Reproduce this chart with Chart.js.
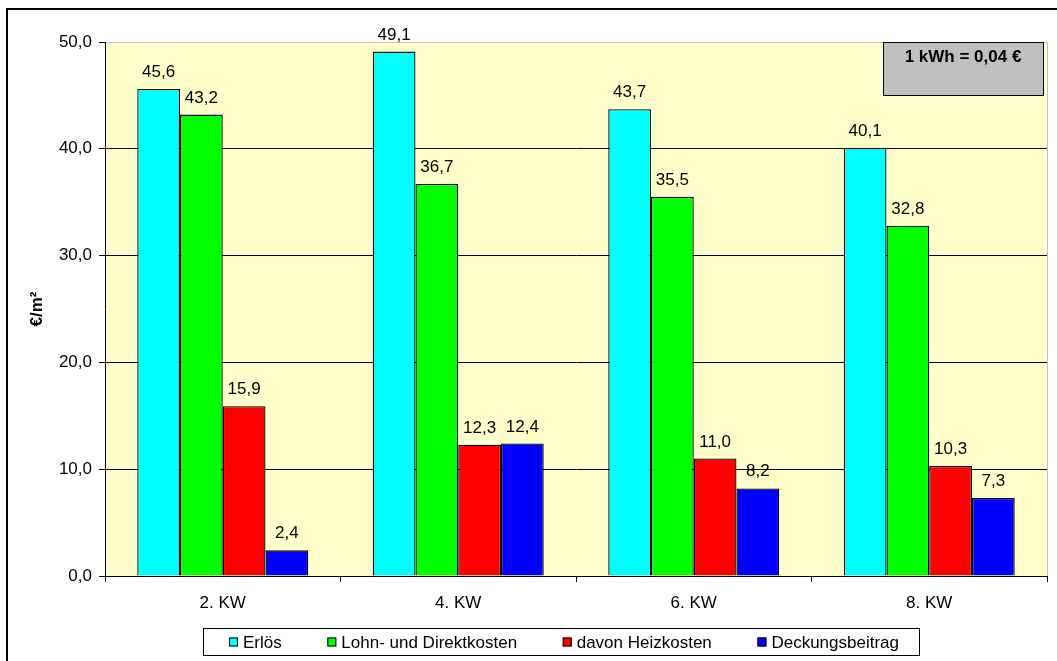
<!DOCTYPE html>
<html>
<head>
<meta charset="utf-8">
<script src="https://cdn.jsdelivr.net/npm/chart.js@4"></script>
<style>
  html, body { margin: 0; padding: 0; background: #fff; }
  #wrap { width: 1057px; height: 661px; }
</style>
</head>
<body>
<div id="wrap"><canvas id="c" width="1057" height="661"></canvas></div>
<script>
// Werte (€/m²) je Kalenderwoche
const weeks = ['2. KW', '4. KW', '6. KW', '8. KW'];
const erloes = [45.6, 49.1, 43.7, 40.1];
const lohnDirekt = [43.2, 36.7, 35.5, 32.8];
const heizkosten = [15.9, 12.3, 11.0, 10.3];
const deckung = [2.4, 12.4, 8.2, 7.3];
const seriesNames = ['Erlös', 'Lohn- und Direktkosten', 'davon Heizkosten', 'Deckungsbeitrag'];
const seriesColors = ['#00FFFF', '#00FF00', '#FF0000', '#0000FF'];
const yTicks = [0, 10, 20, 30, 40, 50];
const noteText = '1 kWh = 0,04 €';

const FONT = '"Liberation Sans", Arial, sans-serif';
const FS = 17;
const fmtDe = v => v.toFixed(1).replace('.', ',');

// plot background, outer frame, value labels, note box, legend
const decor = {
  id: 'decor',
  beforeDraw(chart) {
    const ctx = chart.ctx, a = chart.chartArea;
    ctx.save();
    ctx.fillStyle = '#FFFFCC';
    ctx.fillRect(a.left, a.top, a.right - a.left, a.bottom - a.top);
    ctx.strokeStyle = '#C0C0C0';
    ctx.lineWidth = 1;
    ctx.beginPath();
    ctx.moveTo(a.left, a.top + 0.5);
    ctx.lineTo(a.right + 0.5, a.top + 0.5);
    ctx.lineTo(a.right + 0.5, a.bottom);
    ctx.stroke();
    // outer frame
    ctx.strokeStyle = '#000';
    ctx.lineWidth = 2;
    ctx.strokeRect(7, 9, 1200, 800);
    ctx.restore();
  },
  afterDatasetsDraw(chart) {
    const ctx = chart.ctx;
    ctx.save();
    ctx.font = FS + 'px ' + FONT;
    ctx.fillStyle = '#000';
    ctx.textAlign = 'center';
    ctx.textBaseline = 'alphabetic';
    chart.data.datasets.forEach((ds, i) => {
      chart.getDatasetMeta(i).data.forEach((bar, j) => {
        ctx.fillText(fmtDe(ds.data[j]), bar.x, bar.y - 12);
      });
    });
    ctx.restore();
  },
  afterDraw(chart) {
    const ctx = chart.ctx;
    ctx.save();
    // note box
    ctx.fillStyle = '#C0C0C0';
    ctx.fillRect(883, 42, 161, 54);
    ctx.strokeStyle = '#000';
    ctx.lineWidth = 1;
    ctx.strokeRect(883.5, 42.5, 160, 53);
    ctx.fillStyle = '#000';
    ctx.font = 'bold ' + FS + 'px ' + FONT;
    ctx.textAlign = 'center';
    ctx.textBaseline = 'middle';
    ctx.fillText(noteText, 963, 57);

    // legend
    const bx = 203, by = 628, bw = 716, bh = 27;
    ctx.fillStyle = '#fff';
    ctx.fillRect(bx, by, bw, bh);
    ctx.strokeStyle = '#000';
    ctx.strokeRect(bx + 0.5, by + 0.5, bw, bh);
    ctx.font = FS + 'px ' + FONT;
    ctx.textAlign = 'left';
    const box = 9, gapIn = 5, padL = 26, padR = 20;
    const widths = chart.data.datasets.map(ds => box + gapIn + ctx.measureText(ds.label).width);
    const total = widths.reduce((s, w) => s + w, 0);
    const gap = (bw - padL - padR - total) / (widths.length - 1);
    let x = bx + padL;
    const cy = by + bh / 2 + 0.5;
    chart.data.datasets.forEach((ds, i) => {
      ctx.fillStyle = ds.backgroundColor;
      ctx.fillRect(x, cy - box / 2, box, box);
      ctx.strokeStyle = '#000';
      ctx.strokeRect(x + 0.5, cy - box / 2 + 0.5, box - 1, box - 1);
      ctx.fillStyle = '#000';
      ctx.fillText(ds.label, x + box + gapIn, cy + 1);
      x += widths[i] + gap;
    });
    ctx.restore();
  }
};

const seriesData = [erloes, lohnDirekt, heizkosten, deckung];

new Chart(document.getElementById('c'), {
  type: 'bar',
  data: {
    labels: weeks,
    datasets: seriesData.map((d, i) => ({
      label: seriesNames[i],
      data: d,
      backgroundColor: seriesColors[i],
      borderColor: '#000',
      borderWidth: 1.3,
      categoryPercentage: 0.726,
      barPercentage: 1
    }))
  },
  options: {
    responsive: false,
    animation: false,
    devicePixelRatio: 1,
    layout: { padding: { left: 0, right: 10, top: 42, bottom: 0 } },
    plugins: { legend: { display: false }, tooltip: { enabled: false } },
    scales: {
      x: {
        offset: true,
        grid: { drawOnChartArea: false, drawTicks: true, tickLength: 6, color: '#000' },
        border: { display: true, color: '#000' },
        ticks: { color: '#000', font: { family: FONT, size: FS }, padding: 11, maxRotation: 0 },
        afterFit: s => { s.height = 85; }
      },
      y: {
        min: yTicks[0],
        max: yTicks[yTicks.length - 1],
        afterBuildTicks: s => { s.ticks = yTicks.map(v => ({ value: v })); },
        grid: {
          color: c => (c.tick && c.tick.value === 50 ? '#C0C0C0' : '#000'),
          tickColor: '#000',
          tickLength: 6
        },
        border: { display: true, color: '#000' },
        ticks: { color: '#000', font: { family: FONT, size: FS }, padding: 7, callback: v => fmtDe(v) },
        title: { display: true, text: '€/m²', color: '#000', font: { family: FONT, size: FS, weight: 'bold' }, padding: { top: 27, bottom: 0 } },
        afterFit: s => { s.width = 105; }
      }
    }
  },
  plugins: [decor]
});
</script>
</body>
</html>
